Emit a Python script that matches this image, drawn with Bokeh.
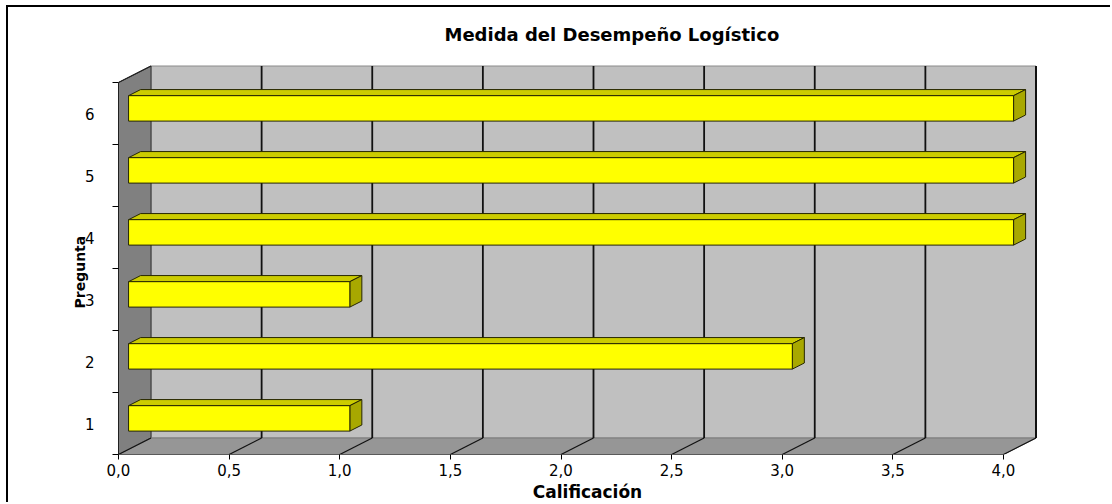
from bokeh.plotting import figure
from bokeh.models import Range1d, FixedTicker, Title
from bokeh.embed import file_html
from bokeh.resources import INLINE

# ---------------- data ----------------
categories = ["1", "2", "3", "4", "5", "6"]
values = [1.0, 3.0, 1.0, 4.0, 4.0, 4.0]
x_ticks = [0.0, 0.5, 1.0, 1.5, 2.0, 2.5, 3.0, 3.5, 4.0]
x_tick_labels = ["0,0", "0,5", "1,0", "1,5", "2,0", "2,5", "3,0", "3,5", "4,0"]
title_text = "Medida del Desempeño Logístico"
x_title = "Calificación"
y_title = "Pregunta"

# ---------------- geometry (pseudo 3-D) ----------------
PX_X = 221.25          # pixels per value unit
PX_Y = 62.0            # pixels per category
DX = 32.5 / PX_X       # depth offset (x)
DY = 16.5 / PX_Y       # depth offset (y)
XMAX = x_ticks[-1]
NCAT = len(categories)
F1, F2 = 0.31, 0.68    # bar front / back depth fraction
BH = 0.205             # half bar height (category units)

FONT = "DejaVu Sans"

FRAME_W = 938
FRAME_H = 398

p = figure(width=1104, height=497,
           x_range=Range1d(0, FRAME_W / PX_X), y_range=Range1d(0, FRAME_H / PX_Y),
           output_backend="svg", toolbar_location=None,
           min_border_left=110, min_border_right=1104 - 110 - FRAME_W,
           min_border_top=49, min_border_bottom=497 - 49 - FRAME_H,
           background_fill_color="white", border_fill_color="white",
           outline_line_color=None,
           styles={"margin-left": "6px", "margin-top": "5px",
                   "border-left": "2px solid black", "border-top": "2px solid black"})
p.grid.visible = False

# title
p.title.text = title_text
p.title.align = "left"
p.title.offset = 326
p.title.standoff = 24
p.title.text_font = FONT
p.title.text_font_size = "18px"
p.title.text_font_style = "bold"
p.title.text_color = "black"

# ---------------- walls ----------------
# back wall
p.patch([DX, XMAX + DX, XMAX + DX, DX], [DY, DY, NCAT + DY, NCAT + DY],
        fill_color="#C0C0C0", line_color="#8A8A8A", line_width=1)
# side (left) wall
p.patch([0, DX, DX, 0], [0, DY, NCAT + DY, NCAT],
        fill_color="#808080", line_color="#303030", line_width=1)
# floor
p.patch([0, XMAX, XMAX + DX, DX], [0, 0, DY, DY],
        fill_color="#969696", line_color="#7A7A7A", line_width=1)

# vertical grid lines on back wall
gx = [t + DX for t in x_ticks[1:-1]]
p.segment(x0=gx, y0=[DY] * len(gx), x1=gx, y1=[NCAT + DY] * len(gx),
          line_color="#111111", line_width=1.8)
# right edge of back wall
p.segment(x0=[XMAX + DX], y0=[DY], x1=[XMAX + DX], y1=[NCAT + DY],
          line_color="#111111", line_width=2)
# floor diagonal grid lines
p.segment(x0=x_ticks, y0=[0] * len(x_ticks),
          x1=[t + DX for t in x_ticks], y1=[DY] * len(x_ticks),
          line_color="#111111", line_width=1.2)
# top edge of side wall
p.segment(x0=[0], y0=[NCAT], x1=[DX], y1=[NCAT + DY],
          line_color="#222222", line_width=1.2)

# ---------------- bars ----------------
front_xs, front_ys, top_xs, top_ys, side_xs, side_ys = [], [], [], [], [], []
for i, v in enumerate(values):
    c = i + 0.5
    y0, y1 = c - BH, c + BH
    ax, ay = F1 * DX, F1 * DY
    bx, by = F2 * DX, F2 * DY
    front_xs.append([ax, v + ax, v + ax, ax])
    front_ys.append([y0 + ay, y0 + ay, y1 + ay, y1 + ay])
    top_xs.append([ax, v + ax, v + bx, bx])
    top_ys.append([y1 + ay, y1 + ay, y1 + by, y1 + by])
    side_xs.append([v + ax, v + bx, v + bx, v + ax])
    side_ys.append([y0 + ay, y0 + by, y1 + by, y1 + ay])

p.patches(xs=top_xs, ys=top_ys, fill_color="#CCCC00", line_color="#262600", line_width=1)
p.patches(xs=side_xs, ys=side_ys, fill_color="#A8A800", line_color="#262600", line_width=1)
p.patches(xs=front_xs, ys=front_ys, fill_color="#FFFF00", line_color="#262600", line_width=1)

# ---------------- axes ----------------
xa = p.xaxis[0]
xa.ticker = FixedTicker(ticks=x_ticks, minor_ticks=[])
xa.major_label_overrides = {t: l for t, l in zip(x_ticks, x_tick_labels)}
xa.bounds = (0, XMAX)
xa.axis_line_color = "#5A5A5A"
xa.axis_line_width = 1
xa.major_tick_out = 5
xa.major_tick_in = 0
xa.major_tick_line_color = "black"
xa.major_label_standoff = 4
xa.major_label_text_font = FONT
xa.major_label_text_font_size = "15px"
xa.major_label_text_color = "black"
xa.axis_label = x_title
xa.axis_label_standoff = 3
xa.axis_label_text_font = FONT
xa.axis_label_text_font_size = "17px"
xa.axis_label_text_font_style = "bold"
xa.axis_label_text_color = "black"

ya = p.yaxis[0]
centers = [i + 0.5 for i in range(NCAT)]
ya.ticker = FixedTicker(ticks=centers, minor_ticks=list(range(NCAT + 1)))
ya.major_label_overrides = {c: l for c, l in zip(centers, categories)}
ya.bounds = (0, NCAT)
ya.axis_line_color = "#202020"
ya.axis_line_width = 1
ya.major_tick_line_color = None
ya.major_tick_out = 0
ya.major_tick_in = 0
ya.minor_tick_line_color = "black"
ya.minor_tick_out = 6
ya.minor_tick_in = 0
ya.major_label_standoff = 18
ya.major_label_text_font = FONT
ya.major_label_text_font_size = "15px"
ya.major_label_text_color = "black"

# y-axis title (placed as a side title so it can sit off-centre like the reference)
p.add_layout(Title(text=y_title, align="left", offset=146, standoff=-12,
                   text_font=FONT, text_font_size="14px", text_font_style="bold",
                   text_color="black"), "left")

open("out.html", "w").write(file_html(p, INLINE))
